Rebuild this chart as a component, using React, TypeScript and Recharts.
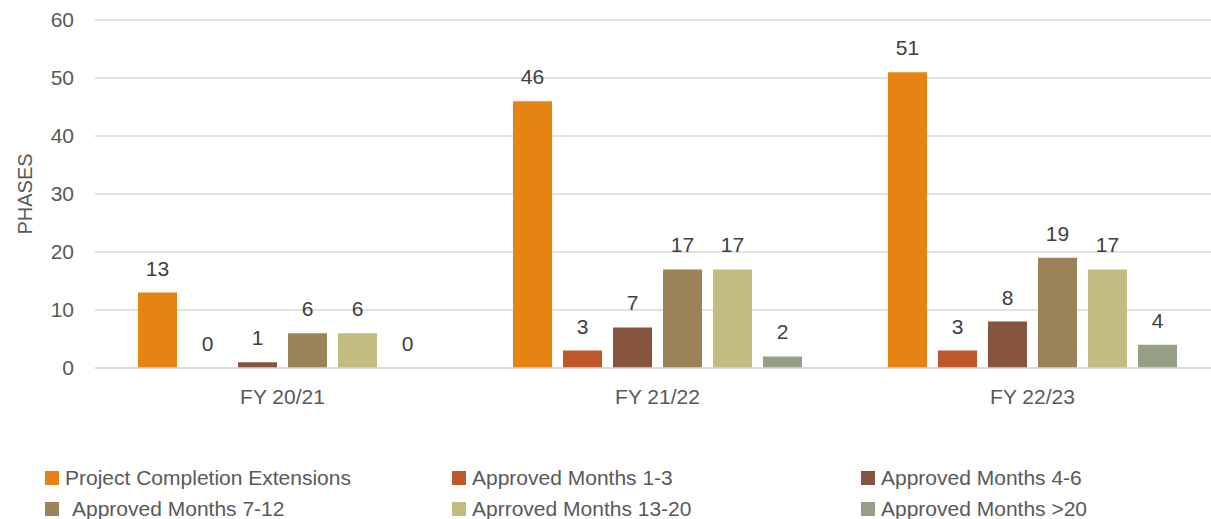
import { BarChart, Bar, XAxis, YAxis, CartesianGrid, Legend, LabelList, Label } from 'recharts';

const categories = ['FY 20/21', 'FY 21/22', 'FY 22/23'];
const completionExtensions = [13, 46, 51];
const months1to3 = [0, 3, 3];
const months4to6 = [1, 7, 8];
const months7to12 = [6, 17, 19];
const months13to20 = [6, 17, 17];
const monthsOver20 = [0, 2, 4];
const yTicks = [0, 10, 20, 30, 40, 50, 60];

const series = [
  { key: 'completion', name: 'Project Completion Extensions', color: '#E58313', values: completionExtensions },
  { key: 'm1', name: 'Approved Months 1-3', color: '#BE582B', values: months1to3 },
  { key: 'm4', name: 'Approved Months 4-6', color: '#87553F', values: months4to6 },
  { key: 'm7', name: 'Approved Months 7-12', color: '#9B8357', values: months7to12 },
  { key: 'm13', name: 'Aprroved Months 13-20', color: '#C3BC82', values: months13to20 },
  { key: 'm20', name: 'Approved Months >20', color: '#949F86', values: monthsOver20 },
];

const data = categories.map((cat, i) => {
  const row: Record<string, string | number> = { category: cat };
  series.forEach((s) => {
    row[s.key] = s.values[i];
  });
  return row;
});

const FONT = '"Liberation Sans", Arial, sans-serif';
const TEXT = '#595959';

function LegendGrid() {
  return (
    <div style={{ height: 111, position: 'relative', fontFamily: FONT, fontSize: 21, color: TEXT }}>
      <div
        style={{
          position: 'absolute',
          left: 45,
          top: 54,
          display: 'grid',
          gridTemplateColumns: '407px 409px 340px',
        }}
      >
        {series.map((s, i) => (
          <div key={s.key} style={{ display: 'flex', alignItems: 'center', height: 31, whiteSpace: 'nowrap' }}>
            <span
              style={{
                width: 14,
                height: 14,
                background: s.color,
                display: 'inline-block',
                marginRight: i === 3 ? 13 : 6,
              }}
            />
            <span>{s.name}</span>
          </div>
        ))}
      </div>
    </div>
  );
}

export default function App() {
  return (
    <div style={{ position: 'absolute', left: 0, top: 0, width: 1211, height: 519, overflow: 'hidden', background: '#fff' }}>
      <BarChart
        width={1225}
        height={519}
        data={data}
        margin={{ top: 20, right: 5, left: 0, bottom: 0 }}
        barSize={39}
        barGap={11}
        style={{ fontFamily: FONT }}
      >
        <CartesianGrid vertical={false} stroke="#D9D9D9" strokeWidth={1.5} />
        <XAxis
          dataKey="category"
          height={40}
          axisLine={{ stroke: '#D9D9D9', strokeWidth: 1.5 }}
          tickLine={false}
          tickMargin={15}
          tick={{ fill: TEXT, fontSize: 21 }}
        />
        <YAxis
          width={95}
          domain={[0, 60]}
          ticks={yTicks}
          axisLine={false}
          tickLine={false}
          tickSize={0}
          tickMargin={21}
          tick={{ fill: TEXT, fontSize: 21 }}
        >
          <Label
            content={({ viewBox }: any) => {
              const x = viewBox.x + 25;
              const y = viewBox.y + viewBox.height / 2;
              return (
                <text
                  x={x}
                  y={y}
                  transform={`rotate(-90, ${x}, ${y})`}
                  textAnchor="middle"
                  dominantBaseline="central"
                  fill={TEXT}
                  fontSize={20}
                  fontFamily={FONT}
                >
                  PHASES
                </text>
              );
            }}
          />
        </YAxis>
        <Legend verticalAlign="bottom" content={() => <LegendGrid />} wrapperStyle={{ left: 0, width: 1211 }} />
        {series.map((s) => (
          <Bar key={s.key} dataKey={s.key} name={s.name} fill={s.color} minPointSize={0.01} isAnimationActive={false}>
            <LabelList dataKey={s.key} position="top" offset={17} fill="#404040" fontSize={21} />
          </Bar>
        ))}
      </BarChart>
    </div>
  );
}
